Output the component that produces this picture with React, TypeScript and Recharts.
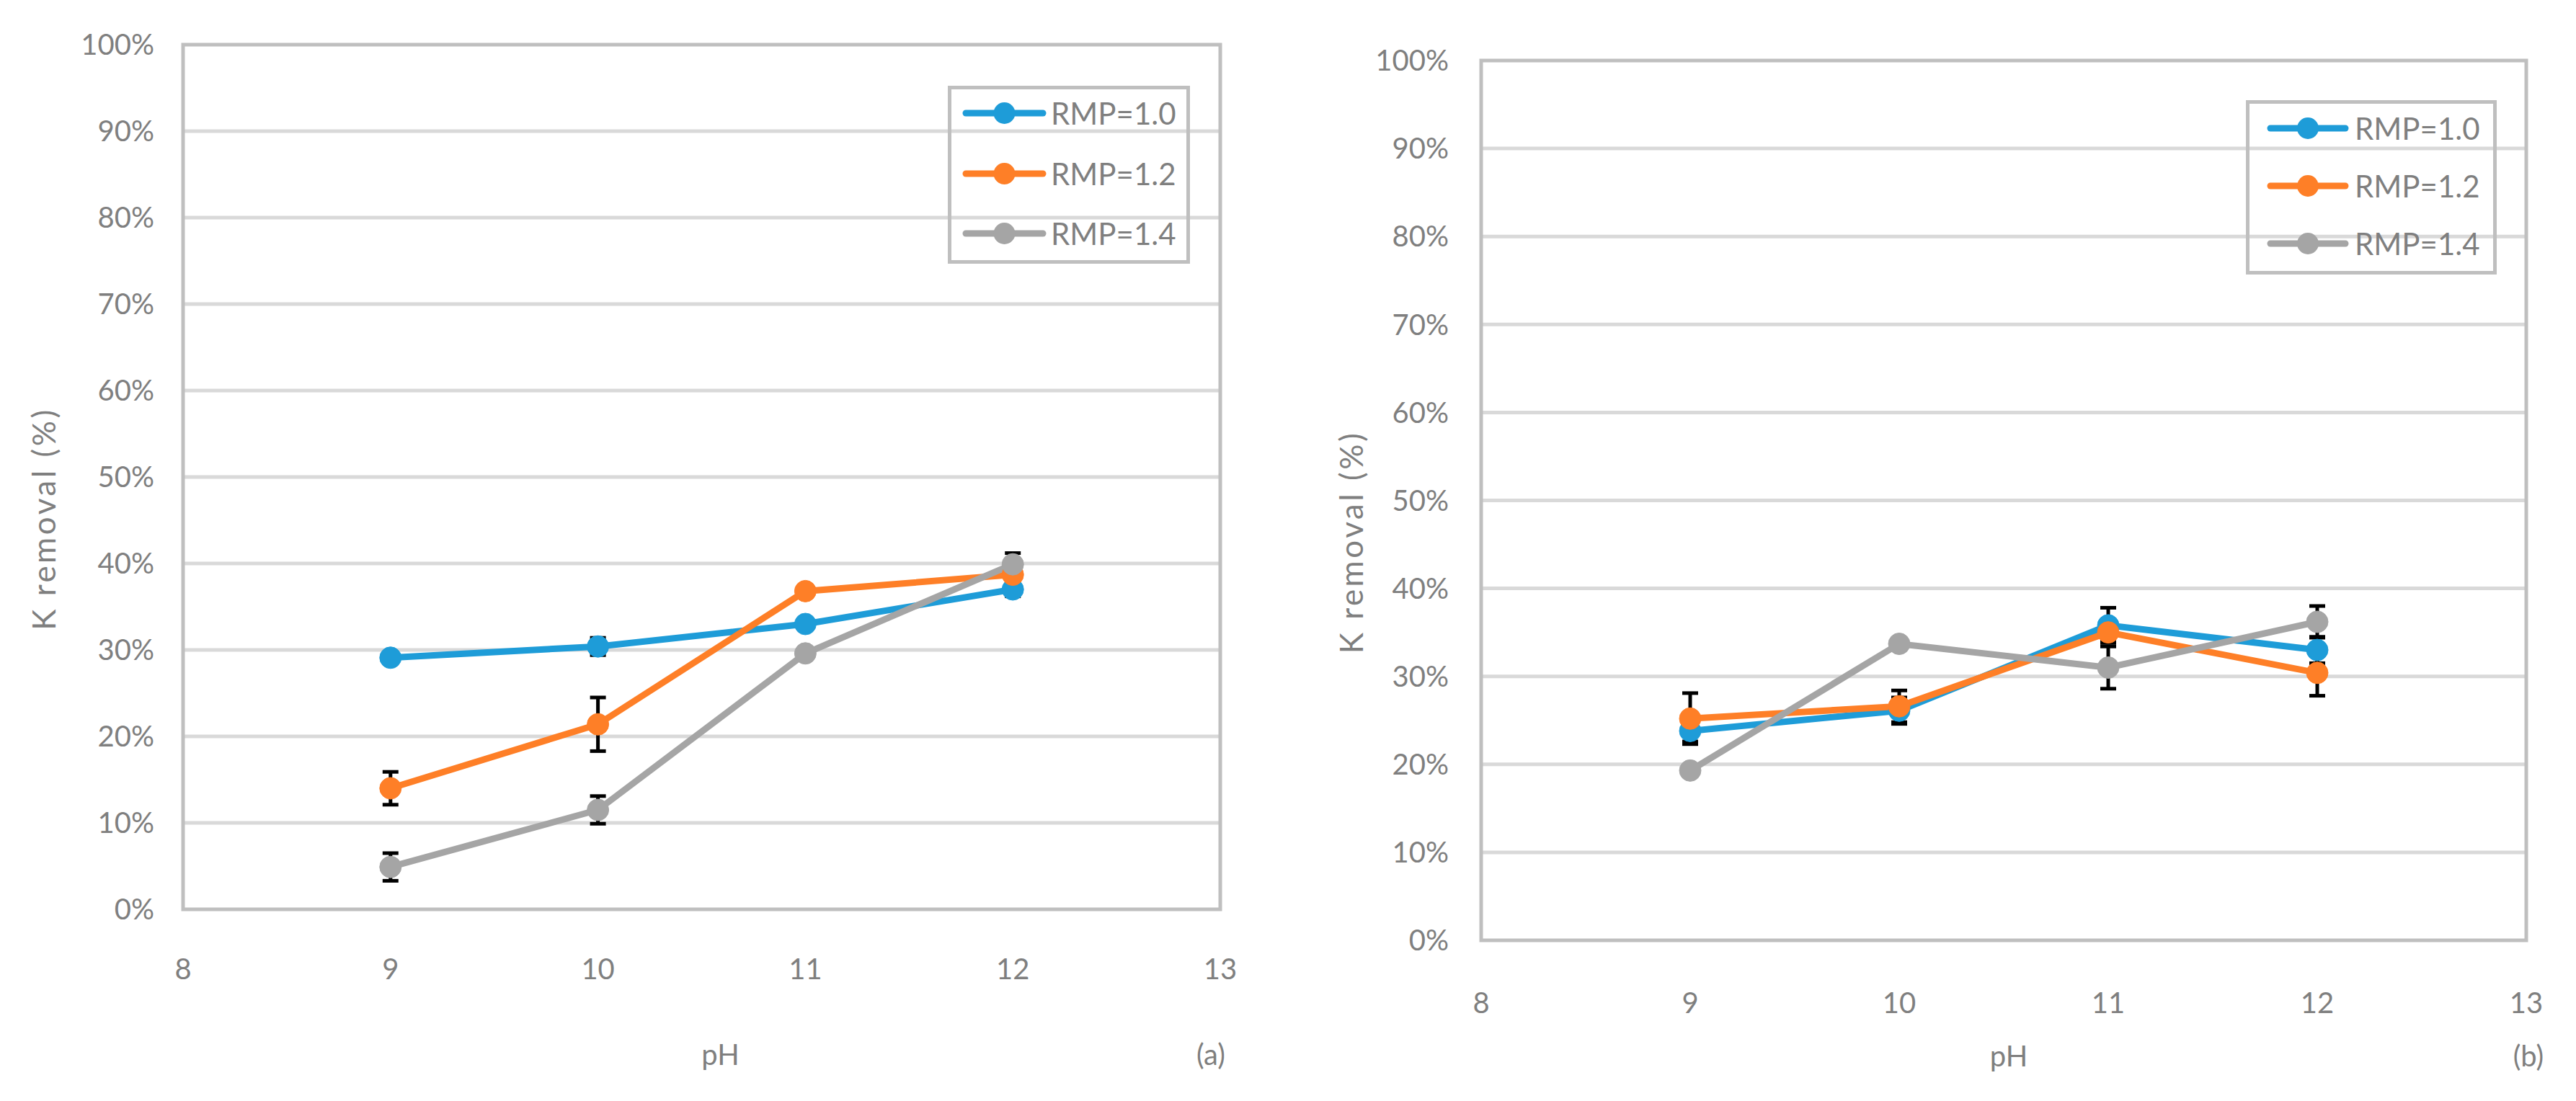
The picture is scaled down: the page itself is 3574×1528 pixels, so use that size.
import React from 'react';
import { LineChart, Line, XAxis, YAxis, CartesianGrid, ErrorBar, Legend, ReferenceArea } from 'recharts';

const PH = [9, 10, 11, 12];
const X_TICKS = [8, 9, 10, 11, 12, 13];
const Y_TICKS = [0, 10, 20, 30, 40, 50, 60, 70, 80, 90, 100];
const SERIES = ['RMP=1.0', 'RMP=1.2', 'RMP=1.4'];
const COLORS = ['#1e9cd8', '#fe7f27', '#a5a5a5'];

// panel (a) - K removal (%) and error bars
const A_RMP10 = [29.1, 30.4, 33.0, 37.0];
const A_RMP10_ERR = [0.4, 1.0, 0.4, 0.8];
const A_RMP12 = [14.0, 21.4, 36.8, 38.7];
const A_RMP12_ERR = [1.9, 3.1, 0.6, 0.6];
const A_RMP14 = [4.9, 11.5, 29.6, 39.9];
const A_RMP14_ERR = [1.6, 1.6, 0.5, 1.3];

// panel (b)
const B_RMP10 = [23.8, 26.1, 35.8, 33.0];
const B_RMP10_ERR = [1.2, 1.5, 2.0, 1.5];
const B_RMP12 = [25.2, 26.6, 35.0, 30.4];
const B_RMP12_ERR = [2.9, 1.8, 1.0, 2.6];
const B_RMP14 = [19.3, 33.7, 31.0, 36.2];
const B_RMP14_ERR = [0.5, 0.5, 2.4, 1.8];

const FONT = 'Lato, "Open Sans", sans-serif';
const TEXT = '#7f7f7f';

function buildRows(values: number[][], errors: number[][]) {
  return PH.map((ph, i) => {
    const row: Record<string, number> = { ph };
    values.forEach((v, s) => {
      row[`s${s}`] = v[i];
      row[`e${s}`] = errors[s][i];
    });
    return row;
  });
}

const dataA = buildRows([A_RMP10, A_RMP12, A_RMP14], [A_RMP10_ERR, A_RMP12_ERR, A_RMP14_ERR]);
const dataB = buildRows([B_RMP10, B_RMP12, B_RMP14], [B_RMP10_ERR, B_RMP12_ERR, B_RMP14_ERR]);

function LegendBox({ cfg }: any) {
  return (
    <div
      style={{
        position: 'relative',
        boxSizing: 'border-box',
        width: cfg.width,
        height: cfg.height,
        border: '5px solid #bfbfbf',
        fontFamily: FONT,
      }}
    >
      {SERIES.map((name, i) => (
        <div
          key={name}
          style={{
            position: 'absolute',
            left: cfg.lineX - 5,
            top: cfg.firstRow + i * cfg.rowStep - 5 - 25,
            height: 50,
            display: 'flex',
            alignItems: 'center',
            whiteSpace: 'nowrap',
          }}
        >
          <svg width={cfg.lineW} height={50}>
            <line x1={5} x2={cfg.lineW - 5} y1={25} y2={25} stroke={COLORS[i]} strokeWidth={9} strokeLinecap="round" />
            <circle cx={cfg.lineW / 2} cy={25} r={15} fill={COLORS[i]} />
          </svg>
          <span style={{ marginLeft: cfg.gap, fontSize: 42, color: TEXT, lineHeight: 1 }}>{name}</span>
        </div>
      ))}
    </div>
  );
}

function Panel({ data, p }: any) {
  const plotBottom = p.height - p.xAxisHeight;
  const plotLeft = p.yAxisWidth;
  const plotRight = p.width - p.marginRight;
  const titleY = (p.top + plotBottom) / 2 + 58;
  const phX = (plotLeft + plotRight) / 2 + p.phDx;
  const baseline = plotBottom + p.phBaseline;

  const yTitle = () => (
    <text
      x={p.titleX}
      y={titleY}
      transform={`rotate(-90 ${p.titleX} ${titleY})`}
      textAnchor="middle"
      dominantBaseline="central"
      fill={TEXT}
      fontSize={44}
      fontFamily={FONT}
      letterSpacing={3.5}
    >
      K removal (%)
    </text>
  );

  const xTitle = () => (
    <g fill={TEXT} fontSize={40} fontFamily={FONT}>
      <text x={phX} y={baseline} textAnchor="middle">pH</text>
      <text x={plotRight + p.tagDx} y={baseline} textAnchor="middle">{p.tag}</text>
    </g>
  );

  return (
    <LineChart
      width={p.width}
      height={p.height}
      data={data}
      margin={{ top: p.top, right: p.marginRight, bottom: 0, left: 0 }}
    >
      <CartesianGrid
        vertical={false}
        horizontalValues={Y_TICKS.slice(1, -1)}
        stroke="#d9d9d9"
        strokeWidth={5}
      />
      <XAxis
        type="number"
        dataKey="ph"
        domain={[8, 13]}
        ticks={X_TICKS}
        axisLine={false}
        tickLine={false}
        tickSize={0}
        tickMargin={p.xTickMargin}
        height={p.xAxisHeight}
        tick={{ fill: TEXT, fontSize: 40, fontFamily: FONT }}
        label={xTitle}
      />
      <YAxis
        type="number"
        domain={[0, 100]}
        ticks={Y_TICKS}
        interval={0}
        axisLine={false}
        tickLine={false}
        tickSize={0}
        tickMargin={p.yTickMargin}
        width={p.yAxisWidth}
        tickFormatter={(v: number) => `${v}%`}
        tick={{ fill: TEXT, fontSize: 40, fontFamily: FONT }}
        label={yTitle}
      />
      <ReferenceArea x1={8} x2={13} y1={0} y2={100} fill="none" stroke="#bfbfbf" strokeWidth={5} />
      {SERIES.map((name, s) => (
        <Line
          key={name}
          name={name}
          dataKey={`s${s}`}
          stroke={COLORS[s]}
          strokeWidth={9}
          dot={{ r: 15, fill: COLORS[s], stroke: COLORS[s], strokeWidth: 1 }}
          activeDot={false}
          isAnimationActive={false}
        >
          <ErrorBar dataKey={`e${s}`} direction="y" width={11} strokeWidth={5} stroke="#000" />
        </Line>
      ))}
      <Legend
        layout="horizontal"
        verticalAlign="middle"
        align="center"
        wrapperStyle={{ left: p.legend.left, top: p.legend.top, width: p.legend.width, height: p.legend.height }}
        content={() => <LegendBox cfg={p.legend} />}
      />
    </LineChart>
  );
}

const PANEL_A = {
  tag: '(a)',
  width: 1790,
  height: 1528,
  top: 62,
  marginRight: 97,
  yAxisWidth: 254,
  xAxisHeight: 266,
  xTickMargin: 69,
  yTickMargin: 40,
  titleX: 60,
  phDx: 26,
  phBaseline: 216,
  tagDx: -13,
  legend: { left: 1315, top: 119, width: 336, height: 247, lineX: 20, lineW: 117, gap: 6, firstRow: 38, rowStep: 83.5 },
};

const PANEL_B = {
  tag: '(b)',
  width: 1784,
  height: 1528,
  top: 84,
  marginRight: 69,
  yAxisWidth: 265,
  xAxisHeight: 223,
  xTickMargin: 73,
  yTickMargin: 45,
  titleX: 84,
  phDx: 7,
  phBaseline: 175,
  tagDx: 3,
  legend: { left: 1326, top: 139, width: 348, height: 242, lineX: 29, lineW: 114, gap: 8, firstRow: 39, rowStep: 80 },
};

export default function App() {
  return (
    <div style={{ position: 'absolute', left: 0, top: 0, width: 3574, height: 1528, background: '#fff', display: 'flex' }}>
      <Panel data={dataA} p={PANEL_A} />
      <Panel data={dataB} p={PANEL_B} />
    </div>
  );
}
